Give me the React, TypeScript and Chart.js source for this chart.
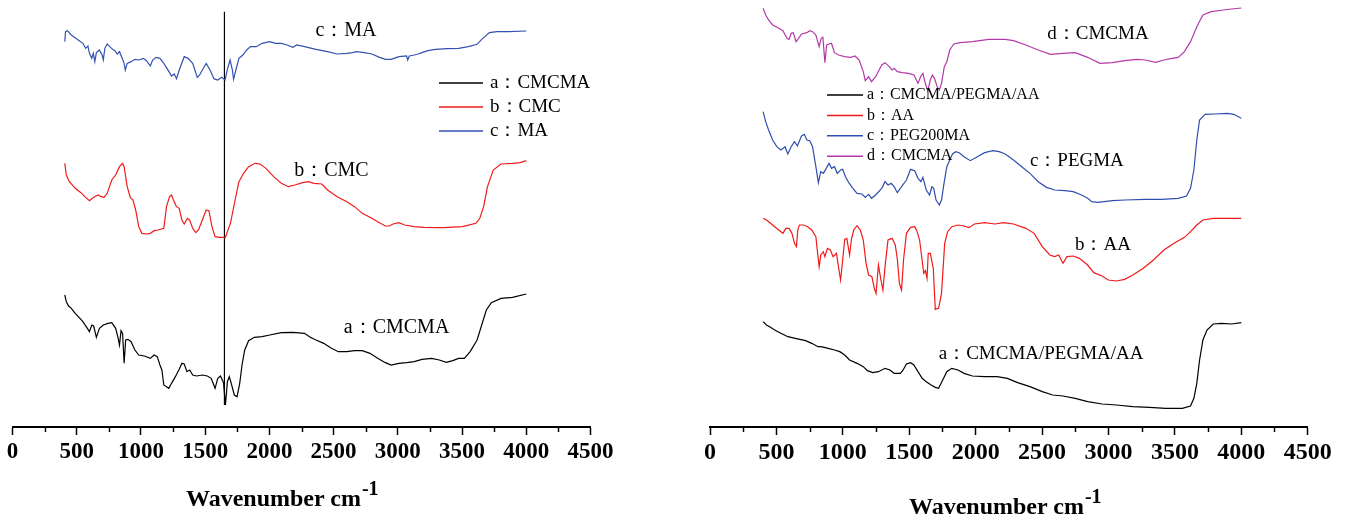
import React, { useEffect, useRef } from "react";
import { Chart, registerables } from "chart.js";

Chart.register(...registerables);

// ---------- Data (wavenumber cm-1, transmittance a.u. with vertical offsets) ----------
const ticksX = [0, 500, 1000, 1500, 2000, 2500, 3000, 3500, 4000, 4500];

// Left panel
const leftCMCMA: [number, number][] = [
  [407,396],[419,376],[437,363],[458,356],[488,341],[518,329],[548,316],[578,299],[599,286],[617,306],
  [632,303],[653,269],[677,296],[707,306],[743,311],[773,313],[803,296],[821,269],[833,246],[845,289],
  [857,281],[869,191],[881,261],[899,263],[923,256],[953,231],[983,216],[1028,213],[1073,206],[1103,216],
  [1127,211],[1148,186],[1163,171],[1178,126],[1199,121],[1217,116],[1238,131],[1268,151],[1298,173],[1319,191],
  [1337,189],[1358,166],[1379,171],[1403,156],[1433,153],[1478,156],[1517,153],[1547,146],[1577,116],[1598,146],
  [1619,153],[1643,133],[1658,66],[1673,136],[1688,151],[1703,131],[1727,96],[1748,91],[1769,131],[1787,186],
  [1808,231],[1838,259],[1883,269],[1943,271],[2003,276],[2093,283],[2183,284],[2273,281],[2318,269],[2363,261],
  [2423,251],[2483,236],[2537,226],[2603,226],[2663,229],[2723,229],[2783,221],[2843,206],[2903,193],[2948,186],
  [3008,191],[3068,193],[3128,196],[3188,203],[3263,206],[3323,201],[3377,194],[3428,199],[3473,206],[3518,206],
  [3563,226],[3617,261],[3653,306],[3689,351],[3728,373],[3803,386],[3893,389],[4000,399],
];
const leftCMC: [number, number][] = [
  [407,791],[419,756],[443,736],[488,716],[533,703],[563,691],[599,679],[638,691],[668,696],[689,691],
  [713,689],[737,701],[773,741],[803,756],[833,781],[857,791],[869,781],[893,721],[917,689],[938,681],
  [959,651],[983,601],[1007,581],[1043,579],[1073,581],[1103,589],[1133,591],[1178,596],[1199,661],[1223,691],
  [1238,696],[1253,681],[1277,661],[1298,656],[1319,621],[1337,609],[1361,626],[1379,621],[1403,596],[1427,583],
  [1448,591],[1478,621],[1508,651],[1529,649],[1553,601],[1577,571],[1613,569],[1658,569],[1673,586],[1697,611],
  [1733,681],[1763,736],[1799,761],[1838,781],[1889,791],[1928,789],[1973,776],[2033,751],[2093,731],[2147,721],
  [2198,726],[2258,733],[2303,736],[2348,731],[2408,729],[2453,711],[2528,691],[2603,676],[2663,661],[2723,641],
  [2783,629],[2843,616],[2903,603],[2933,603],[2963,609],[3008,613],[3053,606],[3128,601],[3203,599],[3353,598],
  [3503,601],[3608,611],[3638,626],[3668,661],[3698,721],[3743,771],[3803,789],[3893,791],[3953,793],[4000,799],
];
const leftMA: [number, number][] = [
  [407,1156],[413,1186],[428,1189],[458,1176],[503,1163],[548,1151],[569,1136],[587,1143],[599,1121],[617,1106],
  [629,1121],[641,1096],[653,1123],[677,1131],[698,1116],[707,1101],[719,1136],[737,1149],[758,1141],[779,1133],
  [797,1129],[815,1119],[833,1126],[857,1103],[869,1091],[878,1071],[893,1091],[923,1096],[953,1103],[983,1101],
  [1019,1106],[1043,1099],[1073,1083],[1091,1101],[1118,1109],[1148,1106],[1178,1091],[1223,1063],[1238,1053],[1259,1059],
  [1277,1045],[1298,1071],[1337,1111],[1367,1106],[1403,1091],[1439,1049],[1457,1056],[1478,1071],[1508,1091],[1538,1071],
  [1568,1045],[1598,1041],[1628,1049],[1655,1041],[1673,1073],[1694,1101],[1712,1071],[1721,1043],[1739,1071],[1763,1106],
  [1793,1116],[1823,1131],[1853,1141],[1898,1141],[1943,1151],[2003,1156],[2048,1151],[2093,1151],[2138,1146],[2183,1139],
  [2213,1146],[2273,1141],[2363,1133],[2453,1126],[2528,1119],[2603,1121],[2648,1123],[2678,1126],[2738,1123],[2798,1119],
  [2858,1109],[2903,1103],[2948,1103],[3008,1111],[3068,1113],[3077,1101],[3089,1113],[3128,1116],[3158,1119],[3188,1123],
  [3233,1129],[3293,1133],[3383,1135],[3473,1136],[3548,1141],[3617,1148],[3653,1163],[3713,1183],[3773,1186],[3863,1186],
  [4000,1188],
];
const leftMarker: [number, number][] = [[1650, 66], [1650, 1246]];

// Right panel
const rightBlend: [number, number][] = [
  [400,316],[425,306],[456,299],[487,291],[534,281],[586,271],[642,266],[720,259],[766,251],[813,241],
  [834,241],[859,239],[890,236],[937,231],[977,226],[1014,216],[1051,201],[1107,191],[1154,181],[1185,169],
  [1225,163],[1268,166],[1318,176],[1355,171],[1386,161],[1433,161],[1454,171],[1479,189],[1510,193],[1535,186],
  [1566,166],[1597,146],[1628,136],[1665,126],[1696,119],[1721,116],[1752,141],[1783,166],[1820,176],[1867,171],
  [1913,161],[1975,153],[2068,151],[2161,151],[2239,146],[2316,133],[2409,121],[2502,106],[2580,96],[2657,93],
  [2750,86],[2843,76],[2952,69],[3060,66],[3184,61],[3308,59],[3432,56],[3556,56],[3618,63],[3643,86],
  [3665,131],[3686,201],[3711,261],[3742,291],[3789,309],[3851,311],[3928,309],[4000,313],
];
const rightAA: [number, number][] = [
  [400,626],[425,621],[456,611],[487,601],[518,591],[549,581],[571,596],[596,596],[617,581],[636,551],
  [651,541],[661,591],[673,606],[704,606],[735,601],[766,591],[797,571],[813,511],[822,481],[834,516],
  [853,526],[865,511],[884,536],[906,531],[927,511],[952,521],[971,471],[983,441],[999,501],[1014,563],
  [1030,566],[1051,516],[1064,561],[1082,591],[1107,604],[1132,591],[1154,561],[1175,491],[1194,456],[1219,451],
  [1237,416],[1250,401],[1268,486],[1287,441],[1302,411],[1318,481],[1340,561],[1371,566],[1395,546],[1411,501],
  [1426,431],[1442,411],[1457,501],[1479,581],[1510,599],[1541,601],[1557,589],[1578,561],[1597,501],[1609,461],
  [1622,469],[1634,446],[1643,521],[1659,521],[1681,476],[1696,353],[1721,356],[1743,401],[1767,551],[1789,586],
  [1820,601],[1867,606],[1913,603],[1950,598],[1991,609],[2068,613],[2146,609],[2208,613],[2285,609],[2378,596],
  [2440,581],[2502,541],[2558,516],[2595,511],[2626,516],[2657,491],[2688,511],[2735,513],[2781,506],[2843,486],
  [2890,463],[2952,453],[2998,441],[3060,438],[3122,443],[3184,456],[3262,476],[3339,501],[3417,531],[3494,551],
  [3572,569],[3618,586],[3665,606],[3711,621],[3789,626],[3897,626],[4000,626],
];
const rightPEGMA: [number, number][] = [
  [400,946],[419,916],[441,891],[472,861],[503,841],[534,831],[565,841],[586,819],[611,841],[636,856],
  [658,843],[689,873],[710,878],[729,861],[751,859],[772,841],[797,781],[816,733],[834,766],[853,761],
  [875,776],[896,791],[915,776],[937,781],[958,761],[983,771],[999,773],[1020,751],[1045,733],[1070,719],
  [1107,701],[1144,699],[1169,689],[1194,698],[1216,686],[1247,696],[1293,716],[1318,736],[1340,726],[1364,731],
  [1386,721],[1411,703],[1442,721],[1479,741],[1510,773],[1541,769],[1566,746],[1588,736],[1603,749],[1628,711],
  [1653,696],[1671,721],[1684,716],[1702,681],[1727,666],[1743,681],[1764,736],[1783,781],[1805,801],[1826,819],
  [1851,826],[1876,823],[1913,811],[1960,799],[2006,809],[2068,823],[2130,829],[2177,826],[2223,819],[2285,801],
  [2347,781],[2409,761],[2471,736],[2533,719],[2595,711],[2673,709],[2735,706],[2797,696],[2843,686],[2874,676],
  [2921,674],[2967,676],[3029,679],[3122,681],[3277,683],[3401,683],[3525,686],[3587,693],[3618,716],[3643,771],
  [3665,861],[3686,921],[3727,938],[3804,939],[3897,941],[3944,938],[4000,926],
];
const rightCMCMA: [number, number][] = [
  [400,1256],[419,1236],[441,1221],[472,1206],[518,1196],[549,1189],[580,1166],[596,1163],[611,1181],[627,1183],
  [648,1156],[667,1166],[689,1179],[729,1183],[751,1189],[772,1186],[797,1176],[822,1141],[837,1166],[850,1169],
  [865,1093],[878,1146],[896,1149],[915,1151],[937,1123],[968,1116],[1014,1111],[1061,1109],[1092,1113],[1123,1101],
  [1154,1066],[1169,1039],[1194,1051],[1216,1036],[1247,1051],[1293,1086],[1318,1093],[1349,1081],[1371,1071],[1386,1076],
  [1411,1066],[1448,1063],[1495,1061],[1535,1056],[1566,1031],[1588,1053],[1603,1061],[1622,1029],[1640,1009],[1659,1041],
  [1674,1056],[1690,1046],[1712,1019],[1727,1011],[1743,1031],[1764,1081],[1783,1096],[1805,1131],[1836,1149],[1882,1153],
  [1975,1156],[2099,1163],[2223,1163],[2285,1159],[2378,1146],[2471,1131],[2564,1118],[2657,1121],[2750,1123],[2843,1109],
  [2936,1091],[3029,1093],[3122,1099],[3215,1103],[3277,1101],[3355,1094],[3417,1101],[3479,1106],[3525,1109],[3572,1126],
  [3618,1156],[3665,1201],[3711,1236],[3773,1246],[3866,1251],[3928,1254],[4000,1257],
];

const leftLegendLabels = ["a：CMCMA", "b：CMC", "c：MA"];
const rightLegendLabels = ["a：CMCMA/PEGMA/AA", "b：AA", "c：PEG200MA", "d：CMCMA"];
const leftCurveLabels = ["a：CMCMA", "b：CMC", "c：MA"];
const rightCurveLabels = ["a：CMCMA/PEGMA/AA", "b：AA", "c：PEGMA", "d：CMCMA"];

// ---------- Plugins ----------
const SERIF = '"Liberation Serif", "Times New Roman", serif';

const minorTicksPlugin = {
  id: "minorTicks",
  afterDraw(chart: any, _a: any, opts: any) {
    const sx = chart.scales.x;
    const { ctx, chartArea } = chart;
    ctx.save();
    ctx.strokeStyle = "#000";
    ctx.lineWidth = opts.width;
    for (let v = opts.first; v < sx.max; v += opts.step) {
      const px = Math.round(sx.getPixelForValue(v)) + 0.5;
      ctx.beginPath();
      ctx.moveTo(px, chartArea.bottom);
      ctx.lineTo(px, chartArea.bottom + opts.length);
      ctx.stroke();
    }
    ctx.restore();
  },
};

const curveLabelsPlugin = {
  id: "curveLabels",
  afterDraw(chart: any, _a: any, opts: any) {
    const { ctx } = chart;
    const sx = chart.scales.x;
    const sy = chart.scales.y;
    ctx.save();
    ctx.font = `${opts.size}px ${SERIF}`;
    ctx.fillStyle = "#000";
    ctx.textAlign = "center";
    ctx.textBaseline = "middle";
    opts.items.forEach((it: any) => {
      ctx.fillText(it.text, sx.getPixelForValue(it.x), sy.getPixelForValue(it.y));
    });
    ctx.restore();
  },
};

const legendPlugin = {
  id: "spectraLegend",
  afterDraw(chart: any, _a: any, opts: any) {
    const { ctx } = chart;
    ctx.save();
    ctx.font = `${opts.size}px ${SERIF}`;
    ctx.textBaseline = "middle";
    ctx.textAlign = "left";
    let row = 0;
    chart.data.datasets.forEach((ds: any) => {
      if (!ds.label) return;
      const y = opts.y + row * opts.gap;
      ctx.strokeStyle = ds.borderColor;
      ctx.lineWidth = opts.lineWidth;
      ctx.beginPath();
      ctx.moveTo(opts.x, y);
      ctx.lineTo(opts.x + opts.len, y);
      ctx.stroke();
      ctx.fillStyle = "#000";
      ctx.fillText(ds.label, opts.x + opts.len + opts.textGap, y);
      row++;
    });
    ctx.restore();
  },
};

const toPts = (arr: [number, number][]) => arr.map(([x, y]) => ({ x, y }));

function Panel(props: {
  left: number;
  width: number;
  padLeft: number;
  padRight: number;
  datasets: any[];
  labels: any[];
  labelSize: number;
  legend: any;
  tickSize: number;
}) {
  const ref = useRef<HTMLCanvasElement | null>(null);
  useEffect(() => {
    if (!ref.current) return;
    const chart = new Chart(ref.current, {
      type: "line",
      data: { datasets: props.datasets },
      options: {
        animation: false,
        responsive: false,
        parsing: false as any,
        layout: { padding: { left: props.padLeft, right: props.padRight, top: 7, bottom: 53 } },
        elements: { point: { radius: 0 }, line: { borderWidth: 1.2, tension: 0 } },
        plugins: {
          legend: { display: false },
          tooltip: { enabled: false },
          minorTicks: { first: 250, step: 500, length: 5, width: 1.5 },
          curveLabels: { items: props.labels, size: props.labelSize },
          spectraLegend: props.legend,
        } as any,
        scales: {
          x: {
            type: "linear",
            min: 0,
            max: 4500,
            afterBuildTicks: (s: any) => {
              s.ticks = ticksX.map((v) => ({ value: v }));
            },
            afterFit: (s: any) => {
              s.height = 40;
              s.paddingLeft = 0;
              s.paddingRight = 0;
            },
            ticks: {
              autoSkip: false,
              maxRotation: 0,
              color: "#000",
              padding: 3,
              font: { family: SERIF, size: props.tickSize, weight: "bold" },
              callback: (v: any) => String(v),
            },
            grid: {
              drawOnChartArea: false,
              drawTicks: true,
              tickLength: 8,
              tickColor: "#000",
              tickWidth: 1.5,
            },
            border: { display: true, color: "#000", width: 2 },
          },
          y: { display: false, min: 0, max: 1260 },
        },
      },
      plugins: [minorTicksPlugin, curveLabelsPlugin, legendPlugin],
    });
    return () => chart.destroy();
  }, []);
  return (
    <canvas
      ref={ref}
      width={props.width}
      height={520}
      style={{ position: "absolute", left: props.left, top: 0, width: props.width, height: 520 }}
    />
  );
}

const titleStyle: React.CSSProperties = {
  position: "absolute",
  font: `bold 24px ${SERIF}`,
  lineHeight: "24px",
  whiteSpace: "nowrap",
  color: "#000",
};
const supStyle: React.CSSProperties = {
  fontSize: 20,
  position: "relative",
  top: -11,
  marginLeft: 1,
};

export default function App() {
  const leftSets = [
    { label: leftLegendLabels[0], data: toPts(leftCMCMA), borderColor: "#000000" },
    { label: leftLegendLabels[1], data: toPts(leftCMC), borderColor: "#f01a1a" },
    { label: leftLegendLabels[2], data: toPts(leftMA), borderColor: "#3352b0" },
    { label: "", data: toPts(leftMarker), borderColor: "#000000", borderWidth: 1.2 },
  ];
  const rightSets = [
    { label: rightLegendLabels[0], data: toPts(rightBlend), borderColor: "#000000" },
    { label: rightLegendLabels[1], data: toPts(rightAA), borderColor: "#f01a1a" },
    { label: rightLegendLabels[2], data: toPts(rightPEGMA), borderColor: "#2f4fae" },
    { label: rightLegendLabels[3], data: toPts(rightCMCMA), borderColor: "#b23aa8" },
  ];
  const leftLabels = [
    { text: leftCurveLabels[0], x: 2990, y: 298 },
    { text: leftCurveLabels[1], x: 2483, y: 768 },
    { text: leftCurveLabels[2], x: 2596, y: 1190 },
  ];
  const rightLabels = [
    { text: rightCurveLabels[0], x: 2493, y: 219 },
    { text: rightCurveLabels[1], x: 2958, y: 546 },
    { text: rightCurveLabels[2], x: 2762, y: 798 },
    { text: rightCurveLabels[3], x: 2921, y: 1178 },
  ];
  return (
    <div style={{ position: "fixed", left: 0, top: 0, width: 1347, height: 520, background: "#fff", overflow: "hidden" }}>
      <Panel
        left={0}
        width={660}
        padLeft={12.5}
        padRight={69.5}
        datasets={leftSets}
        labels={leftLabels}
        labelSize={20}
        tickSize={23}
        legend={{ x: 439, y: 83, gap: 24, len: 44, textGap: 7, size: 19, lineWidth: 1.5 }}
      />
      <Panel
        left={660}
        width={687}
        padLeft={50}
        padRight={39.3}
        datasets={rightSets}
        labels={rightLabels}
        labelSize={19}
        tickSize={24}
        legend={{ x: 167, y: 95, gap: 20.4, len: 36, textGap: 4, size: 16, lineWidth: 1.5 }}
      />
      <div style={{ ...titleStyle, left: 186, top: 486 }}>
        Wavenumber cm<span style={supStyle}>-1</span>
      </div>
      <div style={{ ...titleStyle, left: 909, top: 494 }}>
        Wavenumber cm<span style={supStyle}>-1</span>
      </div>
    </div>
  );
}
